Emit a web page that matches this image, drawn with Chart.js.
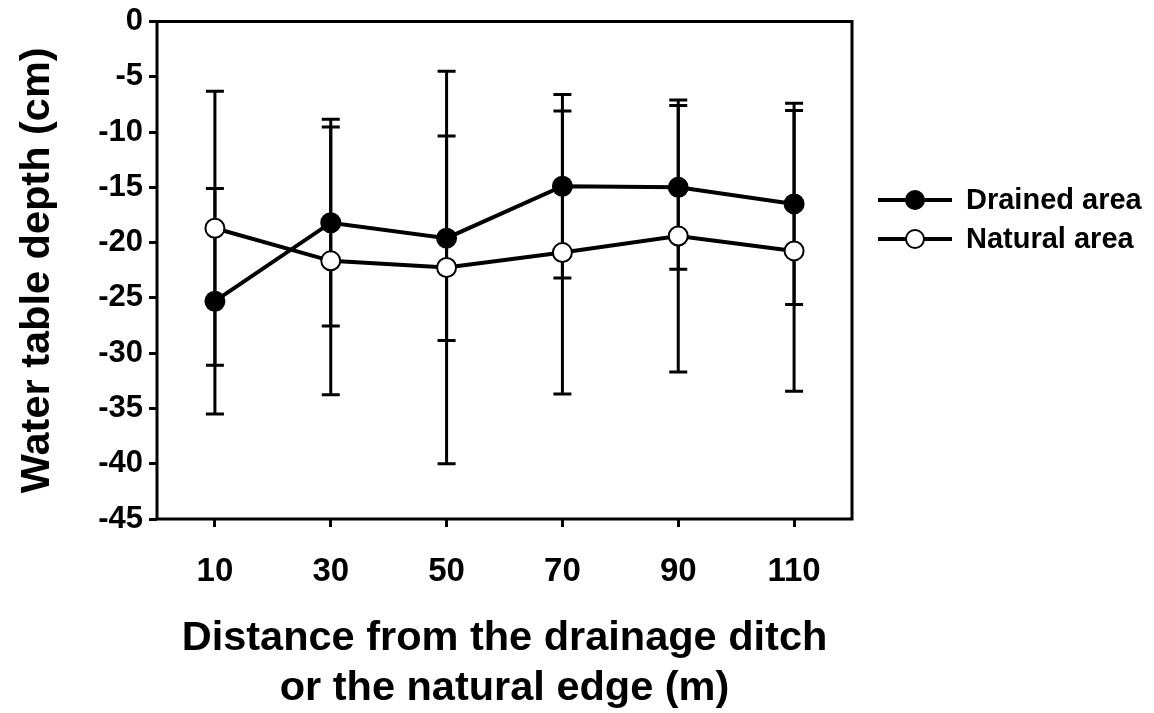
<!DOCTYPE html>
<html>
<head>
<meta charset="utf-8">
<script src="https://cdn.jsdelivr.net/npm/chart.js@4.4.1/dist/chart.umd.min.js"></script>
<style>
  html, body { margin: 0; padding: 0; background: #fff; }
  #wrap { width: 1154px; height: 713px; position: relative; }
</style>
</head>
<body>
<div id="wrap"><canvas id="wtChart"></canvas></div>
<script>
// distance from ditch / edge (m)
const distances = [10, 30, 50, 70, 90, 110];
// mean water table depth (cm) and error bar half-widths
const drainedMean = [-25.3, -18.2, -19.6, -14.9, -15.0, -16.5];
const drainedErr = [10.2, 9.35, 9.25, 8.3, 7.4, 9.1];
const naturalMean = [-18.7, -21.65, -22.25, -20.9, -19.4, -20.75];
const naturalErr = [12.4, 12.1, 17.75, 12.8, 12.3, 12.7];
const yTicks = [0, -5, -10, -15, -20, -25, -30, -35, -40, -45];
const seriesNames = ["Drained area", "Natural area"];

const FONT = "'Liberation Sans', Arial, Helvetica, sans-serif";
const ink = "#000";

const toPoints = (means) => distances.map((d, i) => ({ x: d, y: means[i] }));

// vertical error bars with caps, drawn under the markers
const errorBars = {
  id: "errorBars",
  beforeDatasetsDraw(chart) {
    const { ctx, scales: { x, y } } = chart;
    const errs = [drainedErr, naturalErr];
    const capHalf = 9;
    ctx.save();
    ctx.strokeStyle = ink;
    ctx.lineWidth = 3;
    chart.data.datasets.forEach((ds, di) => {
      ds.data.forEach((pt, i) => {
        const px = x.getPixelForValue(pt.x);
        const yTop = y.getPixelForValue(pt.y + errs[di][i]);
        const yBot = y.getPixelForValue(pt.y - errs[di][i]);
        ctx.beginPath();
        ctx.moveTo(px, yTop);
        ctx.lineTo(px, yBot);
        ctx.moveTo(px - capHalf, yTop);
        ctx.lineTo(px + capHalf, yTop);
        ctx.moveTo(px - capHalf, yBot);
        ctx.lineTo(px + capHalf, yBot);
        ctx.stroke();
      });
    });
    ctx.restore();
  }
};

// box frame around the plot + legend on the right
const frameAndLegend = {
  id: "frameAndLegend",
  afterDraw(chart) {
    const { ctx, chartArea: a } = chart;
    ctx.save();
    ctx.strokeStyle = ink;
    ctx.lineWidth = 3;
    ctx.strokeRect(a.left, a.top, a.right - a.left, a.bottom - a.top);

    const lx0 = 878, lx1 = 952, mx = 915, tx = 966;
    chart.data.datasets.forEach((ds, i) => {
      const ly = 200 + i * 39;
      ctx.lineWidth = 4;
      ctx.beginPath();
      ctx.moveTo(lx0, ly);
      ctx.lineTo(lx1, ly);
      ctx.stroke();
      ctx.beginPath();
      ctx.arc(mx, ly, 9, 0, Math.PI * 2);
      ctx.fillStyle = ds.pointBackgroundColor;
      ctx.fill();
      ctx.lineWidth = 2;
      ctx.stroke();
      ctx.fillStyle = ink;
      ctx.font = "bold 29px " + FONT;
      ctx.textBaseline = "middle";
      ctx.textAlign = "left";
      ctx.fillText(ds.label, tx, ly + 1);
    });
    ctx.restore();
  }
};

const lineStyle = (fill) => ({
  borderColor: ink,
  borderWidth: 4,
  pointRadius: 9.5,
  pointHoverRadius: 9.5,
  pointBorderWidth: 2,
  pointBorderColor: ink,
  pointBackgroundColor: fill,
  tension: 0,
  fill: false
});

new Chart(document.getElementById("wtChart"), {
  type: "line",
  data: {
    datasets: [
      { label: seriesNames[0], data: toPoints(drainedMean), ...lineStyle("#000") },
      { label: seriesNames[1], data: toPoints(naturalMean), ...lineStyle("#fff") }
    ]
  },
  options: {
    responsive: true,
    maintainAspectRatio: false,
    animation: false,
    events: [],
    layout: { padding: { top: 5, right: 302, left: 0, bottom: 0 } },
    plugins: {
      legend: { display: false },
      tooltip: { enabled: false }
    },
    scales: {
      x: {
        type: "linear",
        min: 0,
        max: 120,
        afterBuildTicks: (scale) => {
          scale.ticks = distances.map((v) => ({ value: v }));
        },
        afterFit: (scale) => { scale.height = 194; },
        border: { display: false },
        grid: { drawOnChartArea: false, drawTicks: true, tickLength: 8, color: ink, lineWidth: 3 },
        ticks: { color: ink, font: { family: FONT, size: 33, weight: "bold" }, padding: 25, maxRotation: 0 },
        title: {
          display: true,
          text: ["Distance from the drainage ditch", "or the natural edge (m)"],
          color: ink,
          font: { family: FONT, size: 41.5, weight: "bold", lineHeight: 1.2 },
          padding: { top: 0, bottom: 0 }
        }
      },
      y: {
        min: -45,
        max: 0,
        afterBuildTicks: (scale) => {
          scale.ticks = yTicks.map((v) => ({ value: v }));
        },
        afterFit: (scale) => { scale.width = 157; },
        border: { display: false },
        grid: { drawOnChartArea: false, drawTicks: true, tickLength: 8, color: ink, lineWidth: 3 },
        ticks: { color: ink, font: { family: FONT, size: 31, weight: "bold", lineHeight: 1 }, padding: 6 },
        title: {
          display: true,
          text: "Water table depth (cm)",
          color: ink,
          font: { family: FONT, size: 41.5, weight: "bold", lineHeight: 1.2 },
          padding: { top: 13, bottom: 0 }
        }
      }
    }
  },
  plugins: [errorBars, frameAndLegend]
});
</script>
</body>
</html>
